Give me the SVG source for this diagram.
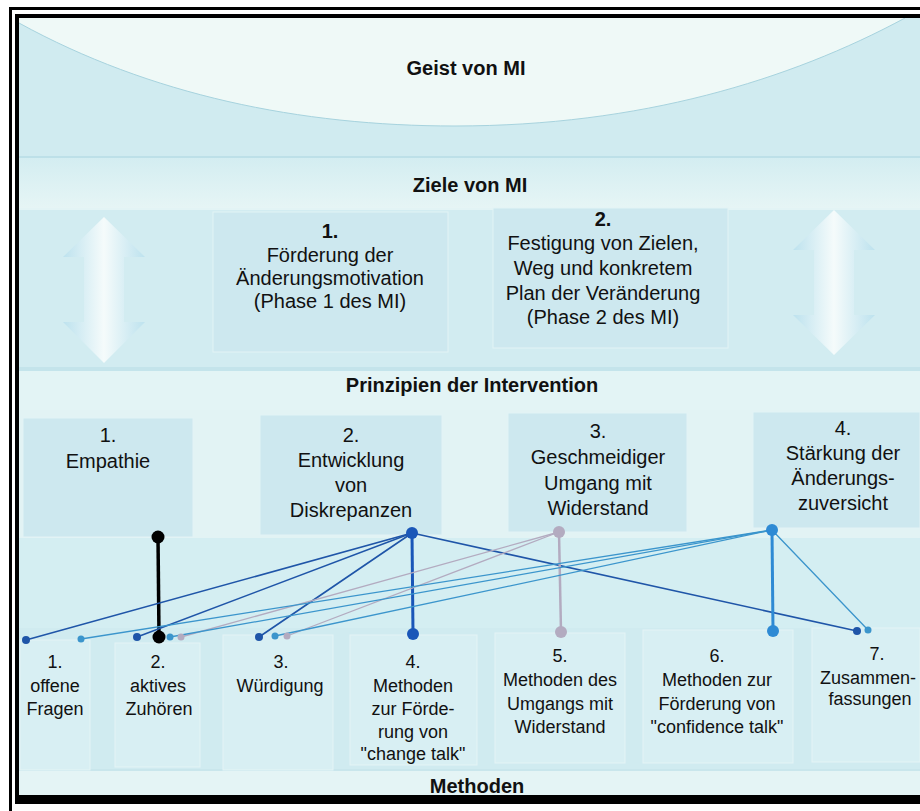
<svg xmlns="http://www.w3.org/2000/svg" width="920" height="811" viewBox="0 0 920 811">
<defs>
<linearGradient id="arrowGrad" x1="0" y1="0" x2="1" y2="0">
<stop offset="0" stop-color="#bde2ee"/>
<stop offset="0.5" stop-color="#f5fbfb"/>
<stop offset="1" stop-color="#bde2ee"/>
</linearGradient>
<linearGradient id="bandGrad" x1="0" y1="0" x2="0" y2="1">
<stop offset="0" stop-color="#d3edf1"/>
<stop offset="1" stop-color="#e6f5f5"/>
</linearGradient>
</defs>
<style>
.t{font-family:"Liberation Sans",Arial,sans-serif;fill:#111;text-anchor:middle}
.h{font-size:20px;font-weight:bold}
.g{font-size:20px}
.m{font-size:18px}
.b{font-weight:bold}
.box{fill:#cde8ef;stroke:#e2f3f5;stroke-width:1}
.mbox{fill:#d8eff3;stroke:#e4f4f5;stroke-width:1}
.l{fill:none;stroke-linecap:round}
.dk{stroke:#1f55a8;stroke-width:1.6}
.lb{stroke:#3b95cc;stroke-width:1.3}
.gr{stroke:#b3abc0;stroke-width:1.3}
</style>
<!-- background -->
<rect x="0" y="0" width="920" height="811" fill="#ffffff"/>
<rect x="19" y="18" width="901" height="777" fill="#d0ebf0"/>
<path d="M19 23 C 150 95, 300 126, 455 126 C 640 126, 790 80, 905 18 L19 18 Z" fill="#eff9f7" stroke="none"/>
<path d="M19 23 C 150 95, 300 126, 455 126 C 640 126, 790 80, 905 18" fill="none" stroke="#a7d3de" stroke-width="1"/>
<rect x="19" y="157" width="901" height="51" fill="url(#bandGrad)"/>
<line x1="19" y1="157" x2="920" y2="157" stroke="#bde0e8" stroke-width="2"/>
<rect x="19" y="208" width="901" height="159" fill="#d2ecf1"/>
<line x1="19" y1="209" x2="920" y2="209" stroke="#e3f4f5" stroke-width="2"/>
<rect x="19" y="367" width="901" height="43" fill="#e3f4f5"/>
<line x1="19" y1="369" x2="920" y2="369" stroke="#c4e4eb" stroke-width="4"/>
<rect x="19" y="410" width="901" height="128" fill="#e2f3f4"/>
<rect x="19" y="538" width="901" height="90" fill="#d4eef2"/>
<rect x="19" y="628" width="901" height="142" fill="#d0ebf0"/>
<rect x="19" y="770" width="901" height="25" fill="#e4f4f5"/>
<line x1="19" y1="770" x2="920" y2="770" stroke="#c9e6ec" stroke-width="2"/>
<!-- frame -->
<rect x="9" y="7" width="3" height="804" fill="#000"/>
<rect x="9" y="7" width="911" height="3" fill="#000"/>
<rect x="15" y="14" width="4" height="790" fill="#000"/>
<rect x="15" y="14" width="905" height="4" fill="#000"/>
<rect x="15" y="795" width="905" height="9" fill="#000"/>
<!-- titles -->
<text class="t h" x="466" y="75">Geist von MI</text>
<text class="t h" x="470" y="192">Ziele von MI</text>
<text class="t h" x="472" y="392">Prinzipien der Intervention</text>
<text class="t h" x="477" y="793">Methoden</text>
<!-- arrows -->
<g id="arrow-left">
<path d="M104 217 L145 257 L124 257 L124 322 L145 322 L104 363 L63 322 L84 322 L84 257 L63 257 Z" fill="url(#arrowGrad)"/>
</g>
<g id="arrow-right">
<path d="M834 210 L875 250 L854 250 L854 315 L875 315 L834 355 L793 315 L814 315 L814 250 L793 250 Z" fill="url(#arrowGrad)"/>
</g>
<!-- goals -->
<g id="goal-1">
<rect class="box" x="213" y="212" width="235" height="140"/>
<text class="t g b" x="330" y="238">1.</text>
<text class="t g" x="330" y="262">Förderung der</text>
<text class="t g" x="330" y="285">Änderungsmotivation</text>
<text class="t g" x="330" y="308">(Phase 1 des MI)</text>
</g>
<g id="goal-2">
<rect class="box" x="493" y="208" width="235" height="140"/>
<text class="t g b" x="603" y="226">2.</text>
<text class="t g" x="603" y="250">Festigung von Zielen,</text>
<text class="t g" x="603" y="275">Weg und konkretem</text>
<text class="t g" x="603" y="300">Plan der Veränderung</text>
<text class="t g" x="603" y="324">(Phase 2 des MI)</text>
</g>
<!-- principles -->
<g id="principle-1">
<rect class="box" x="23" y="418" width="170" height="119"/>
<text class="t g" x="108" y="442">1.</text>
<text class="t g" x="108" y="468">Empathie</text>
</g>
<g id="principle-2">
<rect class="box" x="260" y="415" width="182" height="120"/>
<text class="t g" x="351" y="442">2.</text>
<text class="t g" x="351" y="467">Entwicklung</text>
<text class="t g" x="351" y="492">von</text>
<text class="t g" x="351" y="517">Diskrepanzen</text>
</g>
<g id="principle-3">
<rect class="box" x="508" y="413" width="179" height="119"/>
<text class="t g" x="598" y="438">3.</text>
<text class="t g" x="598" y="464">Geschmeidiger</text>
<text class="t g" x="598" y="490">Umgang mit</text>
<text class="t g" x="598" y="515">Widerstand</text>
</g>
<g id="principle-4">
<rect class="box" x="753" y="412" width="167" height="116"/>
<text class="t g" x="843" y="435">4.</text>
<text class="t g" x="843" y="460">Stärkung der</text>
<text class="t g" x="843" y="485">Änderungs-</text>
<text class="t g" x="843" y="510">zuversicht</text>
</g>
<!-- methods -->
<g id="method-1">
<rect class="mbox" x="20" y="640" width="70" height="130"/>
<text class="t m" x="55" y="668">1.</text>
<text class="t m" x="55" y="692">offene</text>
<text class="t m" x="55" y="715">Fragen</text>
</g>
<g id="method-2">
<rect class="mbox" x="115" y="643" width="85" height="124"/>
<text class="t m" x="158" y="668">2.</text>
<text class="t m" x="158" y="692">aktives</text>
<text class="t m" x="159" y="715">Zuhören</text>
</g>
<g id="method-3">
<rect class="mbox" x="223" y="635" width="110" height="135"/>
<text class="t m" x="281" y="668">3.</text>
<text class="t m" x="280" y="692">Würdigung</text>
</g>
<g id="method-4">
<rect class="mbox" x="350" y="635" width="127" height="130"/>
<text class="t m" x="413" y="668">4.</text>
<text class="t m" x="413" y="692">Methoden</text>
<text class="t m" x="413" y="715">zur Förde-</text>
<text class="t m" x="413" y="738">rung von</text>
<text class="t m" x="413" y="760">"change talk"</text>
</g>
<g id="method-5">
<rect class="mbox" x="495" y="633" width="130" height="130"/>
<text class="t m" x="560" y="662">5.</text>
<text class="t m" x="560" y="686">Methoden des</text>
<text class="t m" x="560" y="710">Umgangs mit</text>
<text class="t m" x="560" y="733">Widerstand</text>
</g>
<g id="method-6">
<rect class="mbox" x="643" y="630" width="150" height="133"/>
<text class="t m" x="717" y="662">6.</text>
<text class="t m" x="717" y="686">Methoden zur</text>
<text class="t m" x="717" y="710">Förderung von</text>
<text class="t m" x="717" y="733">"confidence talk"</text>
</g>
<g id="method-7">
<rect class="mbox" x="812" y="628" width="108" height="134"/>
<text class="t m" x="877" y="660">7.</text>
<text class="t m" x="868" y="684">Zusammen-</text>
<text class="t m" x="870" y="705">fassungen</text>
</g>
<!-- connectors -->
<g id="connectors">
<line x1="158" y1="537" x2="159" y2="637" stroke="#000" stroke-width="3.5"/>
<line class="l dk" x1="412" y1="533" x2="26" y2="640"/>
<line class="l dk" x1="412" y1="533" x2="137" y2="637"/>
<line class="l dk" x1="412" y1="533" x2="259" y2="637"/>
<line class="l dk" x1="412" y1="533" x2="857" y2="631"/>
<line x1="412" y1="533" x2="413" y2="634" stroke="#1a56b8" stroke-width="3"/>
<line class="l gr" x1="559" y1="532" x2="181" y2="637"/>
<line class="l gr" x1="559" y1="532" x2="287" y2="636"/>
<line x1="559" y1="532" x2="561" y2="632" stroke="#b3abc0" stroke-width="2.5"/>
<line class="l lb" x1="772" y1="530" x2="81" y2="639"/>
<line class="l lb" x1="772" y1="530" x2="170" y2="637"/>
<line class="l lb" x1="772" y1="530" x2="275" y2="636"/>
<line class="l lb" x1="772" y1="530" x2="868" y2="630"/>
<line x1="772" y1="530" x2="773" y2="631" stroke="#2e8ad4" stroke-width="3"/>
<circle cx="158" cy="537" r="6.5" fill="#000"/>
<circle cx="159" cy="637" r="6.5" fill="#000"/>
<circle cx="412" cy="533" r="6" fill="#1a56b8"/>
<circle cx="413" cy="634" r="6" fill="#1a56b8"/>
<circle cx="559" cy="532" r="6" fill="#b3abc0"/>
<circle cx="561" cy="632" r="6" fill="#b3abc0"/>
<circle cx="772" cy="530" r="6" fill="#2e8ad4"/>
<circle cx="773" cy="631" r="6" fill="#2e8ad4"/>
<circle cx="26" cy="640" r="4" fill="#1f55a8"/>
<circle cx="137" cy="637" r="4" fill="#1f55a8"/>
<circle cx="259" cy="637" r="4" fill="#1f55a8"/>
<circle cx="857" cy="631" r="4" fill="#1f55a8"/>
<circle cx="181" cy="637" r="3.5" fill="#b3abc0"/>
<circle cx="287" cy="636" r="3.5" fill="#b3abc0"/>
<circle cx="81" cy="639" r="3.5" fill="#3b95cc"/>
<circle cx="170" cy="637" r="3.5" fill="#3b95cc"/>
<circle cx="275" cy="636" r="3.5" fill="#3b95cc"/>
<circle cx="868" cy="630" r="3.5" fill="#3b95cc"/>
</g>
</svg>
